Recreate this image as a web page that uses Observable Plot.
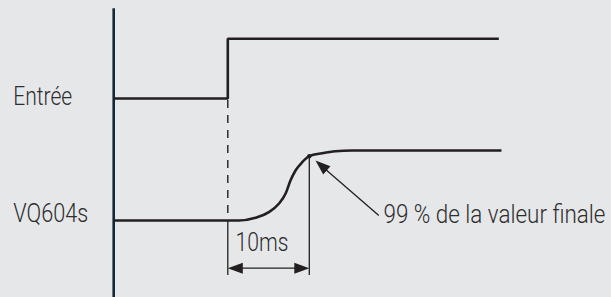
<!DOCTYPE html>
<html>
<head>
<meta charset="utf-8">
<script src="https://cdn.jsdelivr.net/npm/d3@7"></script>
<script src="https://cdn.jsdelivr.net/npm/@observablehq/plot@0.6"></script>
<style>
  html, body { margin: 0; padding: 0; background: #e6e7e9; }
  #chart svg { display: block; }
</style>
</head>
<body>
<div id="chart"></div>
<script>
// ---- data (time in ms, level in normalised signal units) ----
const axisTime = -14.0;
const entreeTime  = [-14.0, 0, 0, 33.25];
const entreeLevel = [1.743, 1.743, 2.596, 2.596];
const responseTime  = [-14.0, 1.35, 3.40, 5.03, 6.26, 7.08, 7.69, 8.31, 9.13, 10.0, 11.58, 13.21, 15.26, 33.58];
const responseLevel = [0, 0, 0.039, 0.119, 0.239, 0.381, 0.571, 0.714, 0.833, 0.919, 0.961, 0.99, 1.0, 1.0];
const stepTime = 0;
const finalTime = 10;          // 99 % point
const finalLevel = 0.919;
const spanLevel = -0.681;      // level of the 10ms dimension arrow
const guideBottom = -0.786;
const pointerTail = {t: 18.53, level: 0.071};
const labels      = ["Entrée", "VQ604s", "10ms", "99 % de la valeur finale"];
const labelTime   = [-26.33, -26.33, 0.94, 19.1];
const labelLevel  = [1.764, 0.1, -0.321, 0.079];

// condensed look: rendered widths of the labels (styling only)
const labelWidths = [59, 75, 53, 222];

const ink = "#231f20";
const xDef = {domain: [0, 10], range: [227.3, 308.8]};
const yDef = {domain: [0, 1], range: [220, 150]};
const xs = Plot.scale({x: xDef});
const ys = Plot.scale({y: yDef});

const entree = entreeTime.map((t, i) => ({t, level: entreeLevel[i]}));
const response = responseTime.map((t, i) => ({t, level: responseLevel[i]}));
const labelData = labels.map((text, i) => ({text, t: labelTime[i], level: labelLevel[i]}));

// filled arrow head pointing +x, tip at origin
const head = {
  draw(ctx) {
    ctx.moveTo(0, 0);
    ctx.lineTo(-15, -5.5);
    ctx.lineTo(-15, 5.5);
    ctx.closePath();
  }
};
const px = (t) => xs.apply(t), py = (l) => ys.apply(l);
const pointerAngle = Math.atan2(py(0.857) - py(pointerTail.level), px(10.76) - px(pointerTail.t)) * 180 / Math.PI;
const heads = [
  {t: stepTime, level: spanLevel, rot: 180},
  {t: finalTime, level: spanLevel, rot: 0},
  {t: 10.76, level: 0.857, rot: pointerAngle}
];

const chart = Plot.plot({
  width: 611,
  height: 297,
  margin: 0,
  x: {...xDef, axis: null},
  y: {...yDef, axis: null},
  style: {background: "#e6e7e9", fontFamily: "Roboto, 'Liberation Sans', sans-serif"},
  marks: [
    Plot.ruleX([axisTime], {y1: 3.024, y2: -1.2, stroke: "#13293a", strokeWidth: 2.6}),
    Plot.ruleX([stepTime], {y1: entreeLevel[0], y2: 0, stroke: ink, strokeWidth: 1.4, strokeDasharray: "8,7", strokeDashoffset: -2}),
    Plot.ruleX([stepTime], {y1: 0, y2: guideBottom, stroke: ink, strokeWidth: 1.3}),
    Plot.ruleX([finalTime], {y1: finalLevel, y2: guideBottom, stroke: ink, strokeWidth: 1.3}),
    Plot.line(entree, {x: "t", y: "level", stroke: ink, strokeWidth: 2.6, strokeLinejoin: "miter", strokeLinecap: "butt"}),
    Plot.line(response, {x: "t", y: "level", curve: "monotone-x", stroke: ink, strokeWidth: 2.6, strokeLinecap: "butt"}),
    Plot.dot([{t: finalTime, level: finalLevel}], {x: "t", y: "level", r: 2.2, fill: ink}),
    Plot.link([{x1: stepTime + 1, x2: finalTime - 1, y: spanLevel}], {x1: "x1", x2: "x2", y1: "y", y2: "y", stroke: ink, strokeWidth: 1.3}),
    Plot.link([{x1: pointerTail.t, y1: pointerTail.level, x2: 11.3, y2: 0.80}], {x1: "x1", y1: "y1", x2: "x2", y2: "y2", stroke: ink, strokeWidth: 1.3}),
    Plot.dot(heads, {x: "t", y: "level", rotate: "rot", symbol: head, fill: ink, stroke: "none"}),
    Plot.text(labelData, {x: "t", y: "level", text: "text", textAnchor: "start", fontSize: 26, fontWeight: 300, fill: "#2e2e2e", lineAnchor: "middle"})
  ]
});
d3.select(chart).selectAll('g[aria-label="text"] text').each(function(d, i) {
  this.setAttribute("textLength", labelWidths[i]);
  this.setAttribute("lengthAdjust", "spacingAndGlyphs");
});
document.getElementById("chart").appendChild(chart);
</script>
</body>
</html>
